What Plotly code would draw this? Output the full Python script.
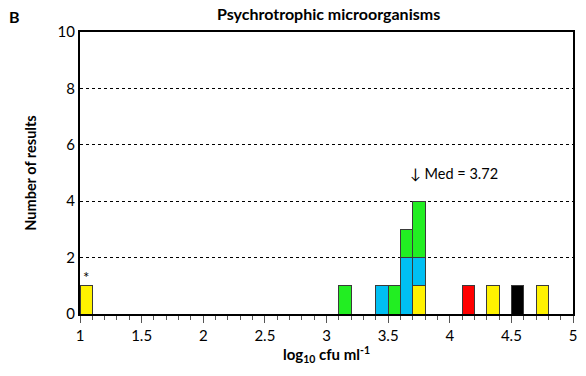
import plotly.graph_objects as go

# Histogram bins (left edges, log10 cfu/ml) and counts per laboratory group
bin_width = 0.1
yellow_bins = [1.0, 3.7, 4.3, 4.7]
yellow_counts = [1, 1, 1, 1]
blue_bins = [3.4, 3.6, 3.7]
blue_counts = [1, 2, 1]
green_bins = [3.1, 3.5, 3.6, 3.7]
green_counts = [1, 1, 1, 2]
red_bins = [4.1]
red_counts = [1]
black_bins = [4.5]
black_counts = [1]

median_value = 3.72
x_ticks = [1, 1.5, 2, 2.5, 3, 3.5, 4, 4.5, 5]
y_ticks = [0, 2, 4, 6, 8, 10]

FONT = "Lato, Open Sans, Arial, sans-serif"

series = [
    ("Group 1", yellow_bins, yellow_counts, "#FFF200"),
    ("Group 2", blue_bins, blue_counts, "#00BFF3"),
    ("Group 3", green_bins, green_counts, "#22EE22"),
    ("Group 4", red_bins, red_counts, "#FF0000"),
    ("Group 5", black_bins, black_counts, "#000000"),
]

fig = go.Figure()
for name, bins, counts, color in series:
    fig.add_trace(go.Bar(
        x=[b + bin_width / 2 for b in bins],
        y=counts,
        width=bin_width,
        name=name,
        marker=dict(color=color, line=dict(color="#3a3a3a", width=1)),
        showlegend=False,
    ))

fig.update_layout(
    barmode="stack",
    width=586, height=376,
    margin=dict(l=80, r=9, t=32, b=62),
    paper_bgcolor="white", plot_bgcolor="white",
    font=dict(family=FONT, size=14, color="black"),
    title=dict(text="<b>Psychrotrophic microorganisms</b>", x=0.5607, xanchor="center",
               y=0.963, yanchor="middle", font=dict(size=16, color="black")),
    xaxis=dict(
        range=[1, 5], tickvals=x_ticks, ticktext=[f"{v:g}" for v in x_ticks],
        ticks="outside", ticklen=7, tickwidth=1, tickcolor="#555",
        minor=dict(dtick=0.1, tick0=1, ticks="outside", ticklen=4, tickwidth=1, tickcolor="#555"),
        showline=True, linecolor="black", linewidth=2, mirror=True,
        showgrid=False, zeroline=False, tickfont=dict(size=15, color="black"),
        title=dict(text="<b>log<sub>10</sub> cfu ml<sup>-1</sup></b>", standoff=4,
                   font=dict(size=15, color="black")),
    ),
    yaxis=dict(
        range=[0, 10], tickvals=y_ticks, ticks="", ticklen=0,
        showline=True, linecolor="black", linewidth=2, mirror=True,
        showgrid=True, gridcolor="black", gridwidth=1, griddash="dot",
        zeroline=False, tickfont=dict(size=15, color="black"),
        title=dict(text="<b>Number of results</b>", standoff=18,
                   font=dict(size=14.5, color="black")),
    ),
)

fig.add_annotation(x=yellow_bins[0] + bin_width / 2, y=yellow_counts[0], text="*",
                   showarrow=False, yanchor="bottom", yshift=-2,
                   font=dict(size=15, color="black"))
fig.add_annotation(x=median_value, y=5.0, text=f"\u2193 Med = {median_value:.2f}",
                   showarrow=False, xanchor="left", xshift=-7, yanchor="middle",
                   font=dict(size=14.5, color="black"))
fig.add_annotation(x=-0.133, y=1.056, xref="paper", yref="paper", text="<b>B</b>",
                   showarrow=False, xanchor="center", yanchor="middle",
                   font=dict(size=16, color="black"))

fig.write_html("out.html")
